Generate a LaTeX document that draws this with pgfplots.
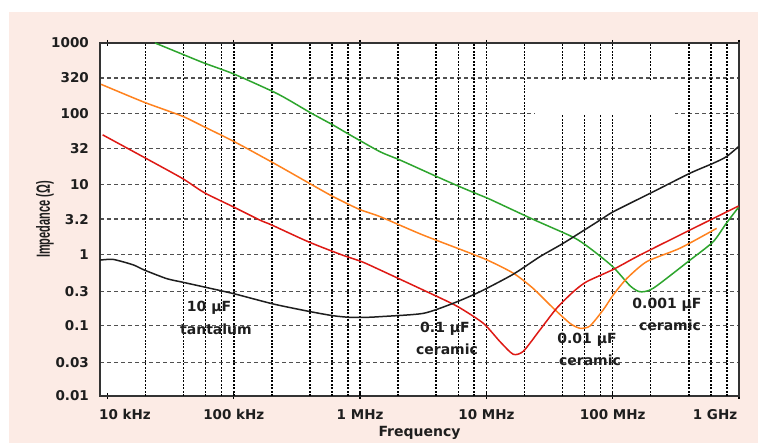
\documentclass[border=0pt]{standalone}
\usepackage{pgfplots}
\pgfplotsset{compat=1.18}
\usepackage{fontspec}
\setmainfont{DejaVu Sans}
\newfontfamily\labfont{Liberation Sans}
\definecolor{bgpink}{RGB}{252,235,229}
\definecolor{cgreen}{RGB}{45,165,45}
\definecolor{corange}{RGB}{255,130,30}
\definecolor{cred}{RGB}{222,25,20}
\definecolor{cblack}{RGB}{30,30,30}
\definecolor{gridgray}{RGB}{80,80,80}
\definecolor{txt}{RGB}{30,30,30}
\begin{document}
\begin{tikzpicture}[x=1bp,y=1bp]
\useasboundingbox (0,0) rectangle (758,445);
\fill[white] (0,0) rectangle (758,445);
\fill[bgpink] (9,2) rectangle (758,433);
\begin{axis}[
  at={(100bp,49bp)}, anchor=south west,
  scale only axis, width=639bp, height=353bp,
  xmode=log, ymode=log,
  xmin=8730, xmax=1e9, ymin=0.01, ymax=1000,
  axis background/.style={fill=white},
  axis line style={draw=black!80, line width=1.6bp},
  xtick={1e4,1e5,1e6,1e7,1e8,1e9},
  xticklabels={{\hspace*{35bp}10 kHz},100 kHz,1 MHz,10 MHz,100 MHz,{1 GHz\hspace*{48bp}}},
  xminorticks=false, yminorticks=false,
  extra x ticks={2e4,4e4,6e4,8e4,1e5,2e5,4e5,6e5,8e5,1e6,2e6,4e6,6e6,8e6,1e7,2e7,4e7,6e7,8e7,1e8,2e8,4e8,6e8,8e8},
  extra x tick labels={},
  extra x tick style={
    xmajorgrids=true,
    major tick length=0pt,
    major grid style={draw=black, line width=1.5bp, dash pattern=on 2bp off 1.4bp},
  },
  ytick={0.01,0.03,0.1,0.3,1,3.2,10,32,100,320,1000},
  yticklabels={0.01,0.03,0.1,0.3,1,3.2,10,32,100,320,1000},
  xmajorgrids=false, ymajorgrids=true,
  major grid style={draw=gridgray, line width=1.3bp, dash pattern=on 4bp off 3bp},
  tick align=center, major tick length=6bp,
  xtick style={draw=black, line width=1.2bp},
  ytick style={draw=none},
  ticklabel style={font=\fontsize{13.5bp}{16bp}\selectfont\bfseries, text=txt},
  yticklabel style={anchor=east, inner sep=0pt, xshift=-8bp},
  xticklabel style={anchor=north, inner sep=0pt, yshift=-10bp},
  xlabel={Frequency},
  ylabel={\labfont\bfseries\fontsize{19bp}{21bp}\selectfont\scalebox{0.58}[1]{Impedance (Ω)}},
  every axis x label/.style={at={(axis description cs:0.5,-0.105)}, anchor=center, font=\fontsize{14bp}{16bp}\selectfont\bfseries, text=txt},
  every axis y label/.style={at={(axis description cs:-0.086,0.5)}, rotate=90, anchor=center, text=txt},
  clip=true,
]
\fill[white] (rel axis cs:0.6808,0.7989) rectangle (rel axis cs:0.8998,0.8952);

% 0.001 uF ceramic (green)
\addplot[cgreen, line width=1.5bp, smooth, tension=0.4] coordinates {
(2.38e4,1000) (3.89e4,698) (5.81e4,521) (1e5,364) (2.08e5,202) (2.79e5,152)
(4.08e5,102) (6.1e5,69) (8.3e5,50) (1.44e6,28.8) (2.07e6,22) (4.05e6,12.8)
(6.17e6,9.2) (8.9e6,7.0) (1.07e7,6.1) (2.34e7,3.18) (4.88e7,1.77) (6.6e7,1.24)
(1e8,0.68) (1.37e8,0.365) (1.64e8,0.30) (2.09e8,0.335) (4.09e8,0.84)
(6.24e8,1.53) (7.94e8,2.8) (9.9e8,4.7)
};
% 0.01 uF ceramic (orange)
\addplot[corange, line width=1.5bp, smooth, tension=0.4] coordinates {
(8.9e3,260) (1.95e4,145) (3.91e4,92) (5.83e4,65) (1.01e5,40) (2.08e5,19.8)
(4.08e5,10) (6.14e5,6.65) (9.86e5,4.4) (1.44e6,3.47) (3.16e6,1.9) (9.46e6,0.89)
(1.63e7,0.55) (2.34e7,0.335) (3.39e7,0.175) (4.59e7,0.107) (5.51e7,0.091)
(6.6e7,0.098) (8.41e7,0.166) (1.01e8,0.27) (1.29e8,0.46) (1.86e8,0.80)
(3.41e8,1.24) (6.65e8,2.37)
};
% 0.1 uF ceramic (red)
\addplot[cred, line width=1.5bp, smooth, tension=0.4] coordinates {
(9.16e3,50) (1.95e4,24) (3.91e4,12.1) (5.83e4,7.6) (1.01e5,4.7) (1.61e5,3.1)
(2.0e5,2.64) (3.89e5,1.53) (7.14e5,1.0) (1.03e6,0.80) (1.44e6,0.61)
(3.16e6,0.317) (5.82e6,0.188) (9.46e6,0.107) (1.28e7,0.059) (1.63e7,0.039)
(1.96e7,0.043) (2.65e7,0.086) (3.6e7,0.175) (4.88e7,0.30) (6.22e7,0.416)
(1.01e8,0.62) (1.64e8,0.99) (4.35e8,2.37) (9.9e8,4.9)
};
% 10 uF tantalum (black)
\addplot[cblack, line width=1.5bp, smooth, tension=0.4] coordinates {
(8.7e3,0.84) (1.11e4,0.86) (1.6e4,0.72) (1.95e4,0.61) (2.94e4,0.46)
(3.91e4,0.41) (5.83e4,0.35) (1.01e5,0.28) (2.08e5,0.20) (4.08e5,0.156)
(6.14e5,0.137) (8.32e5,0.130) (1.12e6,0.130) (1.44e6,0.133) (3.16e6,0.148)
(5.47e6,0.206) (8.9e6,0.30) (1.63e7,0.53) (2.65e7,0.94) (4.07e7,1.46)
(7.94e7,3.1) (1.01e8,4.07) (2.09e8,7.8) (4.09e8,14.3) (6.25e8,19.8)
(7.94e8,24.5) (9.9e8,34)
};

\begin{scope}[every node/.style={font=\fontsize{14bp}{16bp}\selectfont\bfseries, text=txt, inner sep=0pt, anchor=center}]
\node at (rel axis cs:0.1706,0.2493) {10 μF};
\node at (rel axis cs:0.1815,0.1898) {tantalum};
\node at (rel axis cs:0.5399,0.1898) {0.1 μF};
\node at (rel axis cs:0.5430,0.1331) {ceramic};
\node at (rel axis cs:0.7621,0.1586) {0.01 μF};
\node at (rel axis cs:0.7668,0.1020) {ceramic};
\node at (rel axis cs:0.8873,0.2578) {0.001 μF};
\node at (rel axis cs:0.8920,0.2011) {ceramic};
\end{scope}
\end{axis}
\end{tikzpicture}
\end{document}
